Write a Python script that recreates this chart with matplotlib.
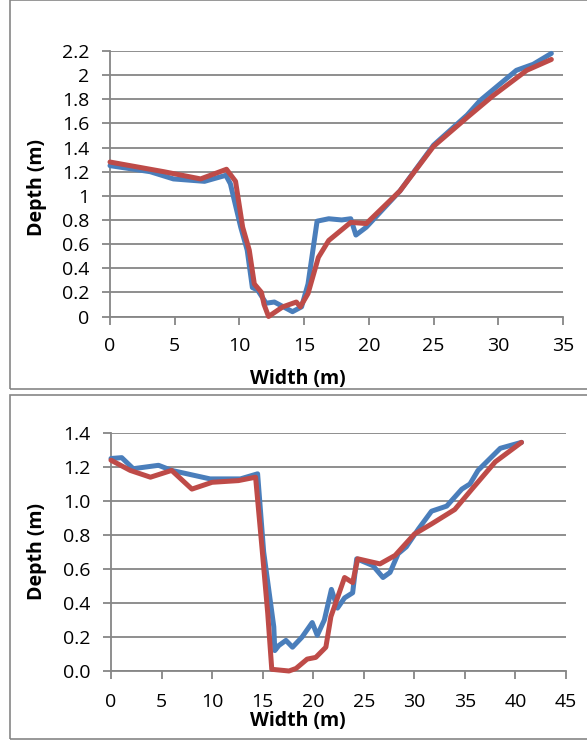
import matplotlib
matplotlib.use("Agg")
import matplotlib.pyplot as plt
from matplotlib.patches import Rectangle
from matplotlib.ticker import FuncFormatter

# ---- data: top panel ----
top_blue_x = [0, 3.1, 4.9, 7.3, 8.95, 9.3, 10.1, 10.6, 11.0, 11.4, 12.06, 12.7, 14.1, 14.8, 15.3, 16.0,
              16.9, 17.9, 18.6, 19.0, 19.8, 22.4, 25.0, 27.6, 28.6, 31.4, 32.7, 34.1]
top_blue_y = [1.25, 1.20, 1.14, 1.12, 1.17, 1.10, 0.74, 0.55, 0.24, 0.22, 0.11, 0.12, 0.04, 0.08, 0.27, 0.79,
              0.81, 0.80, 0.81, 0.675, 0.74, 1.04, 1.42, 1.67, 1.79, 2.04, 2.09, 2.18]
top_red_x = [0, 4.15, 7.0, 9.0, 9.7, 10.25, 10.76, 11.15, 11.7, 11.9, 12.25, 13.35, 14.4, 14.7, 15.3, 16.1,
             16.9, 18.6, 19.8, 22.4, 25.0, 27.6, 29.6, 32.2, 34.1]
top_red_y = [1.28, 1.20, 1.14, 1.22, 1.12, 0.74, 0.55, 0.27, 0.20, 0.10, 0.0, 0.08, 0.12, 0.08, 0.19, 0.49,
             0.63, 0.78, 0.77, 1.04, 1.41, 1.65, 1.83, 2.04, 2.13]
top_xticks = [0, 5, 10, 15, 20, 25, 30, 35]
top_yticks = [0, 0.2, 0.4, 0.6, 0.8, 1.0, 1.2, 1.4, 1.6, 1.8, 2.0, 2.2]

# ---- data: bottom panel ----
bot_blue_x = [0, 1.06, 2.2, 4.7, 6.0, 9.8, 12.8, 14.5, 15.1, 16.1, 16.2, 16.6, 17.3, 17.95, 18.9, 19.9,
              20.4, 21.1, 21.8, 22.4, 23.1, 23.9, 24.3, 25.9, 26.9, 27.6, 28.4, 29.2, 30.4, 31.7, 33.2,
              34.7, 35.5, 36.3, 38.5, 40.6]
bot_blue_y = [1.25, 1.255, 1.19, 1.21, 1.18, 1.13, 1.13, 1.16, 0.70, 0.26, 0.12, 0.15, 0.18, 0.14, 0.20, 0.285,
              0.21, 0.30, 0.48, 0.37, 0.43, 0.46, 0.66, 0.62, 0.55, 0.58, 0.69, 0.73, 0.835, 0.94, 0.97,
              1.07, 1.10, 1.18, 1.31, 1.345]
bot_red_x = [0, 1.9, 3.9, 6.0, 8.0, 10.0, 12.6, 14.3, 14.97, 15.5, 15.9, 17.6, 18.3, 19.4, 20.25, 21.25,
             21.75, 23.1, 23.9, 24.4, 26.6, 28.1, 30.0, 31.7, 34.0, 35.7, 38.0, 40.6]
bot_red_y = [1.24, 1.18, 1.14, 1.18, 1.07, 1.11, 1.12, 1.14, 0.70, 0.34, 0.01, 0.0, 0.015, 0.07, 0.08, 0.14,
             0.32, 0.55, 0.52, 0.66, 0.63, 0.68, 0.805, 0.865, 0.95, 1.07, 1.23, 1.345]
bot_xticks = [0, 5, 10, 15, 20, 25, 30, 35, 40, 45]
bot_yticks = [0.0, 0.2, 0.4, 0.6, 0.8, 1.0, 1.2, 1.4]

x_label = "Width (m)"
y_label = "Depth (m)"

BLUE = "#4A7EBB"
RED = "#BE4B48"
GRID = "#868686"
FONT = ["Open Sans", "DejaVu Sans"]
FS = 14

plt.rcParams['font.family'] = FONT

fig = plt.figure(figsize=(5.87, 7.40), dpi=100)
W, H = 587, 740

def fx(px):
    return px / W

def fy(py):
    return 1 - py / H

# panel borders
for (x0, y0, x1, y1) in [(10, 0.5, 590, 389), (10, 395, 590, 739)]:
    fig.patches.append(Rectangle((fx(x0), fy(y1)), fx(x1 - x0), (y1 - y0) / H,
                                 transform=fig.transFigure, fill=False,
                                 edgecolor=GRID, linewidth=1.2, zorder=0))

def style(ax, xticks, yticks, fmt, xpad, ypad):
    ax.set_xlim(xticks[0], xticks[-1])
    ax.set_ylim(yticks[0], yticks[-1])
    ax.set_xticks(xticks)
    ax.set_yticks(yticks)
    ax.yaxis.set_major_formatter(FuncFormatter(fmt))
    ax.grid(axis='y', color=GRID, linewidth=1.3)
    ax.set_axisbelow(True)
    for s in ['top', 'right']:
        ax.spines[s].set_visible(False)
    for s in ['left', 'bottom']:
        ax.spines[s].set_color(GRID)
        ax.spines[s].set_linewidth(1.3)
    ax.tick_params(axis='both', direction='out', length=6, width=1.3, color=GRID,
                   labelsize=FS, labelcolor='black')
    ax.tick_params(axis='x', pad=xpad)
    ax.tick_params(axis='y', pad=ypad)

def plot_lines(ax, bx, by, rx, ry):
    kw = dict(linewidth=3.6, solid_capstyle='round', solid_joinstyle='round', clip_on=False)
    ax.plot(bx, by, color=BLUE, zorder=3, **kw)
    ax.plot(rx, ry, color=RED, zorder=4, **kw)

# top axes
ax1 = fig.add_axes([fx(110), fy(316.5), fx(563 - 110), (316.5 - 51) / H])
plot_lines(ax1, top_blue_x, top_blue_y, top_red_x, top_red_y)
style(ax1, top_xticks, top_yticks, lambda v, p: f"{v:g}", 8.5, 9)

# bottom axes
ax2 = fig.add_axes([fx(111), fy(671), fx(566 - 111), (671 - 433) / H])
plot_lines(ax2, bot_blue_x, bot_blue_y, bot_red_x, bot_red_y)
style(ax2, bot_xticks, bot_yticks, lambda v, p: f"{v:.1f}", 9.5, 9)

# axis titles
fig.text(fx(298), fy(379), x_label, ha='center', va='center', fontsize=FS, fontweight='bold')
fig.text(fx(298), fy(721), x_label, ha='center', va='center', fontsize=FS, fontweight='bold')
fig.text(fx(37), fy(187), y_label, ha='center', va='center', rotation=90, fontsize=FS, fontweight='bold')
fig.text(fx(37), fy(552), y_label, ha='center', va='center', rotation=90, fontsize=FS, fontweight='bold')

fig.savefig("out.png", dpi=100)
